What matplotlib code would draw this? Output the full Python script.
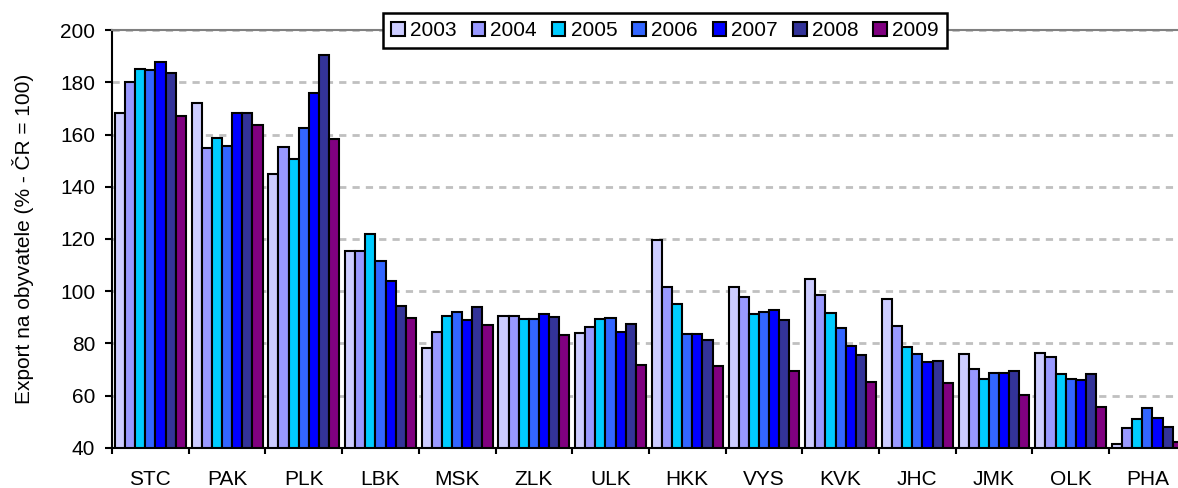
import numpy as np
import matplotlib
matplotlib.use("Agg")
import matplotlib.pyplot as plt
from matplotlib.patches import Patch

plt.rcParams['font.family'] = ['Liberation Sans', 'DejaVu Sans']

regions = ['STC', 'PAK', 'PLK', 'LBK', 'MSK', 'ZLK', 'ULK',
           'HKK', 'VYS', 'KVK', 'JHC', 'JMK', 'OLK', 'PHA']
years = ['2003', '2004', '2005', '2006', '2007', '2008', '2009']

v2003 = [168.3, 172.3, 144.8, 115.3, 78.2, 90.4, 84.0, 119.6, 101.7, 104.7, 97.0, 75.8, 76.4, 41.3]
v2004 = [180.2, 154.8, 155.2, 115.3, 84.2, 90.4, 86.4, 101.7, 97.8, 98.7, 86.6, 70.1, 74.7, 47.7]
v2005 = [185.2, 158.8, 150.6, 121.8, 90.4, 89.3, 89.2, 95.2, 91.3, 91.5, 78.5, 66.5, 68.1, 51.1]
v2006 = [184.8, 155.8, 162.6, 111.7, 92.0, 89.3, 89.6, 83.6, 92.2, 86.0, 75.9, 68.5, 66.2, 55.2]
v2007 = [188.0, 168.3, 175.9, 104.0, 89.0, 91.3, 84.5, 83.7, 92.9, 78.9, 73.0, 68.8, 65.8, 51.3]
v2008 = [183.5, 168.3, 190.7, 94.2, 94.0, 90.1, 87.3, 81.3, 88.8, 75.4, 73.2, 69.4, 68.3, 47.8]
v2009 = [167.2, 163.6, 158.3, 89.6, 87.2, 83.2, 71.7, 71.3, 69.4, 65.3, 64.8, 60.1, 55.5, 42.3]

series = [v2003, v2004, v2005, v2006, v2007, v2008, v2009]
colors = ['#CCCCFF', '#9999FF', '#00CCFF', '#3366FF', '#0000FF', '#333399', '#800080']

fs = 15

fig = plt.figure(figsize=(11.78, 4.88), dpi=100)
# plot area runs past the right edge of the image, as in the reference
ax = fig.add_axes([0.0951, 0.0826, 0.9115, 0.8553])

x = np.arange(len(regions)) + 0.5
w = 0.132
for i, (vals, c) in enumerate(zip(series, colors)):
    offs = (i - 3) * w
    ax.bar(x + offs, np.array(vals) - 40, width=w, bottom=40, color=c,
           edgecolor='black', linewidth=1.5, zorder=3)

ax.set_ylim(40, 200)
ax.set_xlim(0, len(regions))
ax.set_yticks(np.arange(40, 201, 20))
ax.yaxis.grid(True, color='#C0C0C0', linestyle=(0, (2.6, 2.2)), linewidth=2, zorder=0)

ax.set_xticks(np.arange(len(regions) + 1))
ax.set_xticklabels([])
ax.set_xticks(x, minor=True)
ax.set_xticklabels(regions, minor=True)
ax.tick_params(axis='x', which='major', length=4.5, width=1.5, direction='out')
ax.tick_params(axis='x', which='minor', length=0, pad=16, labelsize=fs)
ax.tick_params(axis='y', length=5, width=1.5, direction='out', labelsize=fs, pad=7)

ax.spines['right'].set_visible(False)
ax.spines['top'].set_color('#808080')
ax.spines['top'].set_linewidth(1.5)
ax.spines['left'].set_linewidth(1.5)
ax.spines['bottom'].set_linewidth(1.5)

ax.set_ylabel('Export na obyvatele (% - ČR = 100)', fontsize=fs, labelpad=19)

handles = [Patch(facecolor=c, edgecolor='black', linewidth=1.5) for c in colors]
leg = fig.legend(handles, years, loc='center', bbox_to_anchor=(0.5645, 0.9375),
                 ncol=7, fontsize=fs, frameon=True, fancybox=False,
                 handlelength=0.65, handleheight=0.65, handletextpad=0.25,
                 columnspacing=0.72, borderpad=0.4, borderaxespad=0)
leg.get_frame().set_edgecolor('black')
leg.get_frame().set_linewidth(1.8)
leg.get_frame().set_alpha(1)

fig.savefig('out.png', dpi=100)
